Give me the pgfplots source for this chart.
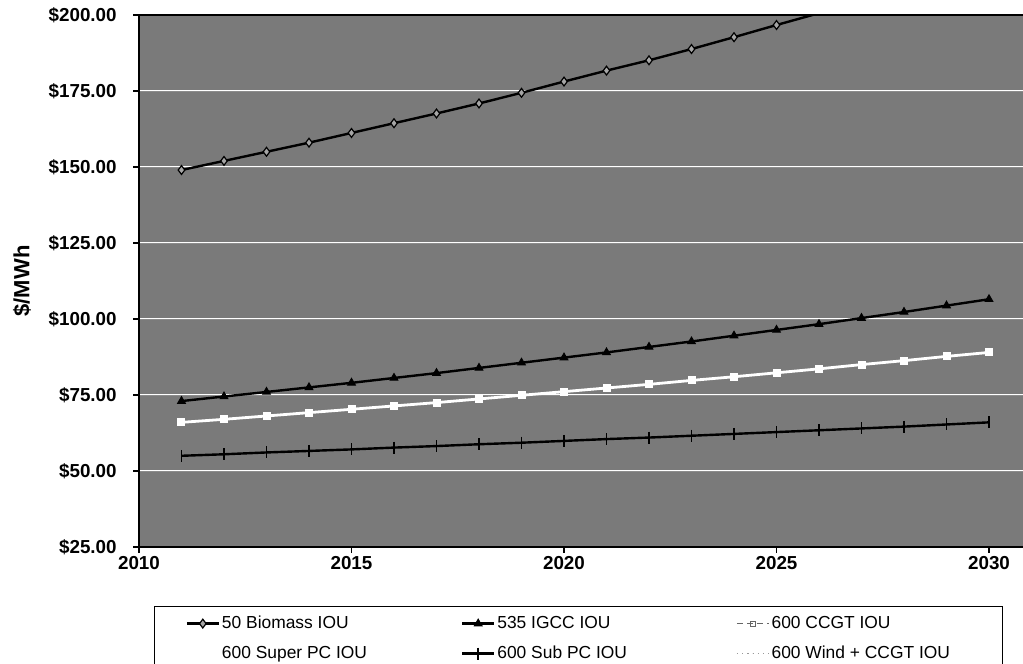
\documentclass[border=0pt]{standalone}
\usepackage{fontspec}
\setmainfont{Liberation Sans}
\usepackage{pgfplots}
\pgfplotsset{compat=1.18}
\begin{document}
\begin{tikzpicture}
\path[use as bounding box] (-69.5pt,-58.5pt) rectangle (442pt,273.5pt);
\begin{axis}[
  width=442pt, height=266pt, scale only axis,
  xmin=2010, xmax=2030.8, ymin=25, ymax=200,
  axis x line*=box, axis y line*=left,
  axis line style={black, line width=0.8pt},
  axis background/.style={fill=black!52},
  xtick={2010,2015,2020,2025,2030},
  xticklabels={2010,2015,2020,2025,2030},
  ytick={25,50,75,100,125,150,175,200},
  yticklabels={\$25.00,\$50.00,\$75.00,\$100.00,\$125.00,\$150.00,\$175.00,\$200.00},
  xtick pos=left, ytick pos=left,
  tick align=outside, major tick length=3pt,
  tick style={black, line width=0.6pt},
  yticklabel style={font=\fontsize{9.4}{10}\selectfont\bfseries, inner sep=0pt, anchor=east, xshift=-8pt},
  xticklabel style={font=\fontsize{9.4}{10}\selectfont\bfseries, inner sep=0pt, anchor=north, yshift=-1.5pt},
  ymajorgrids,
  major grid style={draw=white, double=black!45, double distance=0.35pt, line width=0.45pt},
  ylabel={\$/MWh},
  ylabel style={font=\fontsize{11}{12}\selectfont\bfseries, at={(axis description cs:-0.1324,0.5)}, anchor=center},
  legend columns=3,
  legend cell align=left,
  legend style={at={(axis description cs:0.01697,-0.1109)}, anchor=north west,
    draw=black, line width=0.6pt, fill=white,
    font=\fontsize{8.7}{10}\selectfont,
    inner xsep=15.5pt, inner ysep=3pt,
    nodes={inner sep=1pt, text height=7pt, text depth=2pt},
    /tikz/row sep=4pt},
  legend image code/.code={\draw[mark repeat=2,mark phase=2] plot coordinates {(0pt,0pt) (8pt,0pt) (16pt,0pt)};},
]
\addplot[black, line width=1.2pt, mark=diamond*, mark size=2.2pt, mark options={fill=black!35, line width=0.6pt}]
coordinates {(2011,149.0) (2012,152.0) (2013,155.0) (2014,158.0) (2015,161.2) (2016,164.4) (2017,167.6) (2018,170.9) (2019,174.4) (2020,178.1) (2021,181.7) (2022,185.1) (2023,188.8) (2024,192.7) (2025,196.7) (2026,200.6) (2027,204.6) (2028,208.7) (2029,212.9) (2030,217.0)};
\addlegendentry{\makebox[118.5pt][l]{50 Biomass IOU}}
\addplot[black, line width=1.2pt, mark=triangle*, mark size=2.2pt, mark options={line width=0.5pt}]
coordinates {(2011,73.0) (2012,74.5) (2013,76.0) (2014,77.5) (2015,79.0) (2016,80.6) (2017,82.2) (2018,83.9) (2019,85.6) (2020,87.3) (2021,89.0) (2022,90.8) (2023,92.6) (2024,94.5) (2025,96.4) (2026,98.3) (2027,100.3) (2028,102.3) (2029,104.4) (2030,106.5)};
\addlegendentry{\makebox[118.5pt][l]{535 IGCC IOU}}
\addplot[white, line width=1.4pt, mark=square*, mark size=1.3pt, mark options={fill=white}, forget plot]
coordinates {(2011,66.0) (2012,67.0) (2013,68.1) (2014,69.2) (2015,70.3) (2016,71.4) (2017,72.5) (2018,73.7) (2019,74.9) (2020,76.1) (2021,77.3) (2022,78.5) (2023,79.8) (2024,81.0) (2025,82.3) (2026,83.6) (2027,85.0) (2028,86.3) (2029,87.7) (2030,89.0)};
\addlegendimage{black!60, densely dashed, line width=0.5pt, mark=square, mark size=1.3pt, mark options={solid}}
\addlegendentry{\makebox[99pt][l]{600 CCGT IOU}}
\addlegendimage{legend image code/.code={\path (0pt,0pt) (16pt,0pt);}}
\addlegendentry{\makebox[118.5pt][l]{600 Super PC IOU}}
\addplot[black, line width=1.2pt, mark=|, mark size=3pt, mark options={line width=0.8pt}]
coordinates {(2011,55.0) (2012,55.5) (2013,56.1) (2014,56.6) (2015,57.1) (2016,57.7) (2017,58.2) (2018,58.8) (2019,59.3) (2020,59.9) (2021,60.5) (2022,61.0) (2023,61.6) (2024,62.2) (2025,62.8) (2026,63.4) (2027,64.0) (2028,64.6) (2029,65.3) (2030,66.0)};
\addlegendentry{\makebox[118.5pt][l]{600 Sub PC IOU}}
\addlegendimage{black!40, dotted, line width=0.6pt}
\addlegendentry{\makebox[99pt][l]{600 Wind + CCGT IOU}}
\end{axis}
\end{tikzpicture}
\end{document}
